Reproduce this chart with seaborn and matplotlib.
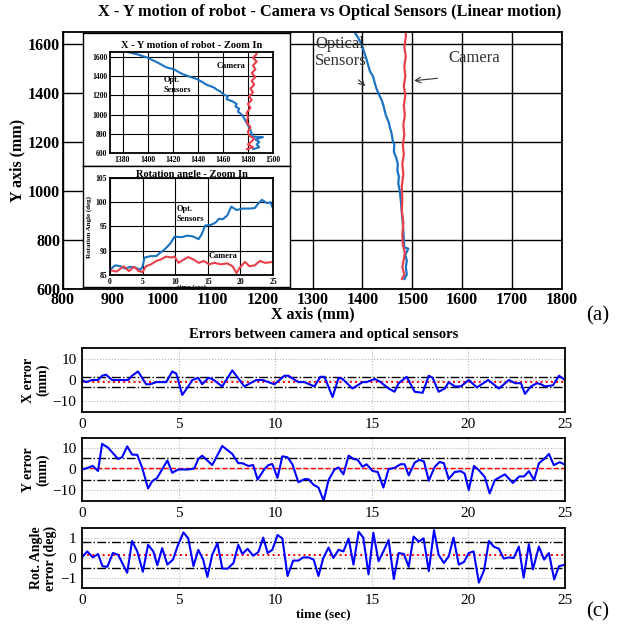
import matplotlib
matplotlib.use("Agg")
import matplotlib.pyplot as plt
import seaborn as sns

# ─── Data ─────────────────────────────────────────────────────────────────────

# X-Y trajectory (mm)
opt_x = [1484, 1489, 1487, 1489, 1486, 1492, 1484, 1483, 1482, 1480, 1477, 1475,
         1472, 1473, 1470, 1471, 1468, 1463, 1464, 1461, 1458, 1455, 1453, 1447,
         1442, 1439, 1432, 1428, 1425, 1421, 1415, 1408, 1400, 1392, 1384]
opt_y = [640, 660, 690, 715, 740, 765, 770, 800, 840, 890, 960, 1000,
         1030, 1060, 1085, 1110, 1135, 1160, 1190, 1205, 1240, 1260, 1280, 1310,
         1350, 1370, 1400, 1420, 1440, 1470, 1490, 1540, 1590, 1625, 1650]
cam_x = [1479, 1484, 1480, 1483, 1485, 1481, 1480, 1482, 1479, 1480, 1479, 1482,
         1480, 1483, 1481, 1484, 1482, 1485, 1483, 1486, 1483, 1486, 1484, 1487,
         1484, 1487, 1487]
cam_y = [640, 660, 690, 720, 750, 780, 820, 870, 920, 970, 1020, 1070,
         1110, 1150, 1190, 1230, 1270, 1310, 1350, 1390, 1430, 1470, 1510, 1550,
         1590, 1630, 1650]

# Rotation angle (deg)
rot_opt_t = [0, 0.8, 1.6, 2.4, 3.1, 3.9, 4.7, 5.0, 5.3, 6.3, 7.1, 7.6, 8.4, 9.2,
             9.9, 11.0, 11.8, 12.6, 13.6, 14.1, 14.6, 15.4, 16.2, 16.7, 17.3, 18.0,
             18.6, 19.4, 20.4, 21.4, 22.2, 22.8, 23.3, 24.1, 24.6, 25.0]
rot_opt = [86.1, 87.0, 86.8, 86.3, 86.7, 86.5, 86.1, 86.8, 88.6, 88.9, 88.9, 89.5,
           90.3, 91.4, 92.9, 92.8, 93.1, 93.0, 92.4, 93.5, 95.2, 95.3, 95.8, 96.6,
           96.5, 97.3, 99.1, 98.4, 98.7, 98.7, 98.8, 99.8, 100.5, 99.8, 100.0, 98.7]
rot_cam_t = [0, 1.0, 2.1, 2.9, 3.7, 4.4, 5.0, 5.5, 6.3, 7.1, 7.8, 8.6, 9.4, 9.9,
             10.5, 11.2, 12.0, 12.8, 13.6, 14.4, 15.2, 16.0, 17.0, 18.0, 18.8, 19.4,
             19.9, 20.7, 21.4, 22.2, 23.0, 23.8, 25.0]
rot_cam = [86.0, 85.7, 86.8, 85.8, 86.7, 85.8, 85.6, 86.8, 87.2, 87.9, 88.2, 88.8,
           88.6, 88.8, 87.5, 88.1, 88.7, 88.2, 87.5, 87.9, 87.2, 87.5, 87.2, 87.4,
           86.8, 85.4, 86.5, 87.7, 86.8, 87.0, 87.9, 87.5, 87.7]

# Errors between camera and optical sensors
x_err_t = [0, 0.21, 0.52, 0.83, 1.04, 1.24, 1.56, 1.87, 2.39, 2.59, 2.90, 3.32, 3.53,
           3.84, 4.05, 4.36, 4.67, 4.88, 5.19, 5.50, 5.71, 6.02, 6.22, 6.54, 6.74,
           7.26, 7.78, 8.40, 9.02, 9.34, 9.96, 10.48, 10.68, 11.20, 11.51, 12.03,
           12.34, 12.55, 12.97, 13.28, 13.49, 14.00, 14.52, 14.73, 15.15, 15.46,
           15.87, 16.18, 16.39, 16.80, 17.22, 17.63, 17.95, 18.15, 18.46, 18.78,
           18.98, 19.29, 19.61, 20.02, 20.44, 21.02, 21.58, 22.10, 22.41, 22.72,
           22.93, 23.24, 23.55, 23.76, 23.96, 24.38, 24.69, 25.0]
x_err = [0, -1, 0, 0, 2, 2.5, 0, 0, 0, 2, 4, -2, -2, -1, -1, -1, 4, 3, -7, -3,
         0, 1, -2, 1, 0.5, -3, 4.5, -3, 0, 0, -2, 2, 2, -1, -1, -3, 1.5, 1.5, -8, 1,
         0.5, -4, -1, -1, 0.5, -1, -4, -5.5, -1.5, 1.5, -5.5, -6, 2, 1, -5.5, -4, -1,
         -3, -3, 0, -3.5, 0, -4, 0, -1.5, -1.5, -6.5, -3, -1.5, -2, -3, -2.5, 2, 0]
x_err_lines = [-1.0, 1.3, -3.5]          # mean, upper, lower

y_err_t = [0, 0.21, 0.56, 0.83, 1.04, 1.35, 1.87, 2.07, 2.34, 2.59, 2.86, 3.11, 3.42,
           3.63, 3.88, 4.42, 4.67, 4.98, 5.50, 5.81, 6.02, 6.22, 6.74, 7.26, 7.78,
           8.09, 8.30, 8.61, 8.86, 9.09, 9.44, 9.65, 9.85, 10.12, 10.37, 10.64,
           10.89, 11.20, 11.51, 11.72, 11.99, 12.24, 12.51, 12.76, 13.07, 13.28,
           13.53, 13.80, 14.05, 14.27, 14.52, 14.73, 15.04, 15.31, 15.60, 15.87,
           16.18, 16.49, 16.70, 16.91, 17.22, 17.47, 17.70, 17.95, 18.26, 18.51,
           18.73, 18.98, 19.29, 19.61, 19.81, 20.02, 20.29, 20.54, 20.85, 21.10,
           21.37, 21.89, 22.30, 22.63, 22.88, 23.13, 23.40, 23.65, 23.92, 24.17,
           24.42, 24.73, 25.0]
y_err = [0, 0.5, 1.7, -0.7, 12.2, 10.4, 5, 5.8, 11, 7.1, 7, 1, -9, -5.6, -4.1, 4.3,
         -1.6, 0, 0, 0.5, 5, 6.6, 2.1, 11.2, 7.4, 3, 3, 1.7, 2.1, -4.8, 0.2, 2.1, 2.6,
         -4, 6.3, 5.8, 2.5, -6.1, -4.6, -4.6, -7.3, -8.6, -14.9, -5, 0, 1, -2.3, 6.6,
         5, 4.6, 1.3, 2.5, -0.7, -1.2, -8.6, 0.2, 0.8, 2.5, 2.5, -2.8, 3.3, 4.6, 3.8,
         -5.3, 1.3, 3.6, 3, -4.5, -1.2, -0.8, -2, -9.8, 1.7, -0.3, -3.6, -11.4, -5,
         -2.3, -6.4, -3.3, -3.3, -0.8, -5, 3, 5, 7.4, 2.1, 3.5, 2.3]
y_err_lines = [0.5, 5.6, -4.8]

r_err_t = [0, 0.27, 0.56, 0.83, 1.06, 1.31, 1.60, 1.87, 2.34, 2.59, 2.86, 3.15, 3.42,
           3.69, 3.90, 4.15, 4.42, 4.71, 4.94, 5.25, 5.50, 5.77, 6.02, 6.27, 6.49,
           6.74, 7.01, 7.26, 7.53, 7.84, 8.09, 8.30, 8.57, 8.86, 9.13, 9.38, 9.61,
           9.85, 10.12, 10.37, 10.64, 10.93, 11.20, 11.45, 11.72, 11.99, 12.24,
           12.49, 12.76, 13.01, 13.28, 13.53, 13.80, 14.05, 14.32, 14.56, 14.83,
           15.08, 15.35, 15.60, 15.87, 16.14, 16.39, 16.66, 16.91, 17.16, 17.43,
           17.68, 17.95, 18.22, 18.46, 18.73, 18.98, 19.23, 19.50, 19.77, 20.02,
           20.27, 20.54, 20.81, 21.06, 21.31, 21.58, 21.83, 22.10, 22.34, 22.61,
           22.86, 23.13, 23.34, 23.65, 23.92, 24.17, 24.44, 24.69, 25.0]
r_err = [0.03, 0.33, 0.03, 0.2, -0.41, -0.44, 0.25, 0.16, -0.74, 0.85, 0.33, -0.69,
         0.66, 0.33, -0.36, 0.49, -0.33, -0.08, 0.57, 1.28, 0.98, -0.41, 0.41, -0.08,
         -0.95, 0.16, 0.74, -0.52, -0.54, -0.25, 0.66, 0.2, 0.46, 0.11, 0.3, 1.02,
         0.25, 0.41, 1.15, 0.98, -0.9, -0.13, -0.13, 0.03, 0.03, -0.08, -0.9, 0,
         0.52, 0, 0.41, 0.33, 0.98, -0.33, 1.31, 1.02, -0.82, 1.26, -0.16, 0.33, 0.9,
         -1.05, 0.25, 0.2, -0.44, 1.07, 0.82, 0.98, -0.66, 1.39, 0.16, -0.25, 0.08,
         1.02, -0.33, -0.2, 0.25, 0.33, -1.23, -0.62, 0.85, 0.57, 0.46, -0.03, 0.03,
         0, 0.57, -0.98, 0.69, -0.57, 0.57, -0.08, 0.25, -1.07, -0.41, -0.33]
r_err_lines = [0.16, 0.82, -0.49]

# ─── Style ────────────────────────────────────────────────────────────────────

BLUE = "#1a72c2"
RED = "#e8404b"
W, H = 625, 633

sns.set_style("white")
plt.rcParams.update({
    "font.family": ["Liberation Serif", "DejaVu Serif"],
    "axes.edgecolor": "black",
    "axes.linewidth": 1.3,
    "xtick.direction": "in",
    "ytick.direction": "in",
    "xtick.color": "black",
    "ytick.color": "black",
    "text.color": "black",
    "axes.labelcolor": "black",
})


def px_rect(x0, y0, x1, y1):
    """Axes rect from pixel box (top-left origin)."""
    return [x0 / W, 1 - y1 / H, (x1 - x0) / W, (y1 - y0) / H]


def bold_ticks(a):
    for lbl in a.get_xticklabels() + a.get_yticklabels():
        lbl.set_fontweight("bold")


fig = plt.figure(figsize=(W / 100, H / 100), dpi=100)

# ─── Main X-Y plot ────────────────────────────────────────────────────────────

ax = fig.add_axes(px_rect(63, 32, 562, 289))
sns.lineplot(x=opt_x, y=opt_y, sort=False, estimator=None, color=BLUE, lw=1.6, ax=ax)
sns.lineplot(x=cam_x, y=cam_y, sort=False, estimator=None, color=RED, lw=1.6, ax=ax)
ax.set_xlim(800, 1800)
ax.set_ylim(600, 1650)
ax.set_xticks(range(800, 1801, 100))
ax.set_yticks(range(600, 1601, 200))
ax.grid(True, color="black", lw=1.0)
ax.set_axisbelow(True)
ax.tick_params(labelsize=11.5, length=0, pad=2)
bold_ticks(ax)
ax.set_xlabel("X axis (mm)", fontsize=11.5, fontweight="bold", labelpad=-1)
ax.set_ylabel("Y axis (mm)", fontsize=11.5, fontweight="bold", labelpad=2)

ax.text(1305, 1500, "Optical\nSensors", fontsize=12, color="#333333",
        ha="left", va="bottom", linespacing=1.1)
ax.annotate("", xy=(1410, 1422), xytext=(1388, 1462),
            arrowprops=dict(arrowstyle="->", color="#333333", lw=0.8))
ax.text(1572, 1545, "Camera", fontsize=12, color="#333333", ha="left", va="center")
ax.annotate("", xy=(1498, 1450), xytext=(1556, 1462),
            arrowprops=dict(arrowstyle="->", color="#333333", lw=0.8))

fig.text(330 / W, 1 - 12 / H,
         "X - Y motion of robot - Camera vs Optical Sensors (Linear motion)",
         ha="center", va="center", fontsize=11.7, fontweight="bold")
fig.text(598 / W, 1 - 316 / H, "(a)", ha="center", va="center", fontsize=15)

# inset frames
for box in [(83, 33, 290, 166), (83, 166, 290, 287)]:
    fr = fig.add_axes(px_rect(*box))
    fr.set_xticks([]); fr.set_yticks([])
    fr.set_facecolor("white")
    for s in fr.spines.values():
        s.set_linewidth(1.0)

# inset 1: X-Y zoom
a1 = fig.add_axes(px_rect(110, 52, 273, 153))
sns.lineplot(x=opt_x, y=opt_y, sort=False, estimator=None, color=BLUE, lw=1.5, ax=a1)
sns.lineplot(x=cam_x, y=cam_y, sort=False, estimator=None, color=RED, lw=1.5, ax=a1)
a1.set_xlim(1370, 1500)
a1.set_ylim(600, 1650)
a1.set_xticks(range(1380, 1501, 20))
a1.set_yticks(range(600, 1601, 200))
a1.grid(True, color="black", lw=0.8)
a1.tick_params(labelsize=5.5, length=0, pad=2)
bold_ticks(a1)
a1.set_title("X - Y motion of robot - Zoom In", fontsize=7.5, fontweight="bold", pad=3)
a1.text(1455, 1500, "Camera", fontsize=6, fontweight="bold", ha="left", va="center")
a1.text(1413, 1310, "Opt.\nSensors", fontsize=6, fontweight="bold", ha="left",
        va="center", linespacing=1.3)

# inset 2: rotation angle zoom
a2 = fig.add_axes(px_rect(110, 178, 273, 275))
sns.lineplot(x=rot_opt_t, y=rot_opt, sort=False, estimator=None, color=BLUE, lw=1.5, ax=a2)
sns.lineplot(x=rot_cam_t, y=rot_cam, sort=False, estimator=None, color=RED, lw=1.5, ax=a2)
a2.set_xlim(0, 25)
a2.set_ylim(85, 105)
a2.set_xticks(range(0, 26, 5))
a2.set_yticks(range(85, 106, 5))
a2.grid(True, color="black", lw=0.8)
a2.tick_params(labelsize=5.5, length=0, pad=2)
bold_ticks(a2)
a2.set_title("Rotation angle - Zoom In", fontsize=7.5, fontweight="bold", pad=1)
a2.set_xlabel("time (sec)", fontsize=5, fontweight="bold", labelpad=-1)
a2.set_ylabel("Rotation Angle (deg)", fontsize=5, fontweight="bold", labelpad=3)
a2.text(10.2, 97.5, "Opt.\nSensors", fontsize=6, fontweight="bold", ha="left",
        va="center", linespacing=1.3)
a2.text(15.2, 89.0, "Camera", fontsize=6, fontweight="bold", ha="left", va="center")

# ─── Error subplots ───────────────────────────────────────────────────────────

panels = [
    ((82, 348, 565, 412), x_err_t, x_err, x_err_lines, 15, [-10, 0, 10],
     "X error\n(mm)", ":"),
    ((82, 438, 565, 501), y_err_t, y_err, y_err_lines, 15, [-10, 0, 10],
     "Y error\n(mm)", "--"),
    ((82, 528, 565, 588), r_err_t, r_err, r_err_lines, 1.5, [-1, 0, 1],
     "Rot. Angle\nerror (deg)", ":"),
]

for i, (box, t, e, lines, lim, yt, ylab, red_ls) in enumerate(panels):
    ea = fig.add_axes(px_rect(*box))
    ea.grid(True, color="#b5b5b5", ls=":", lw=0.8)
    ea.axhline(lines[0], color="red", ls=red_ls, lw=1.4 if red_ls == ":" else 1.0)
    ea.axhline(lines[1], color="black", ls="-.", lw=1.0)
    ea.axhline(lines[2], color="black", ls="-.", lw=1.0)
    sns.lineplot(x=t, y=e, estimator=None, color="#0000ff", lw=1.5, ax=ea)
    ea.set_xlim(0, 25)
    ea.set_ylim(-lim, lim)
    ea.set_xticks(range(0, 26, 5))
    ea.set_yticks(yt)
    ea.tick_params(labelsize=11, length=3, width=0.8, pad=4)
    ea.set_ylabel(ylab, fontsize=10, fontweight="bold", labelpad=2, linespacing=1.1)
    if i == 0:
        ea.set_title("Errors between camera and optical sensors",
                     fontsize=10.5, fontweight="bold", pad=7)
    if i == 2:
        ea.set_xlabel("time (sec)", fontsize=9.5, fontweight="bold", labelpad=1)

fig.text(598 / W, 1 - 612 / H, "(c)", ha="center", va="center", fontsize=15)

fig.savefig("out.png", dpi=100)
